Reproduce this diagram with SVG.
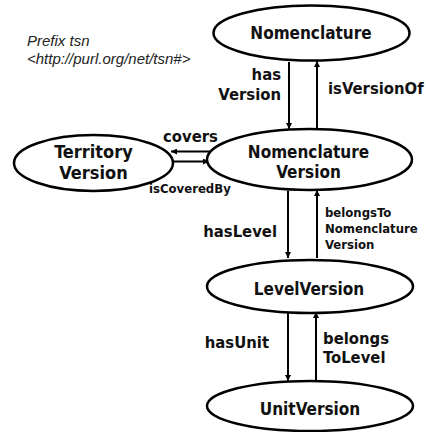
<svg xmlns="http://www.w3.org/2000/svg" width="426" height="432" viewBox="0 0 426 432">
  <defs>
    <marker id="arrow" viewBox="0 0 10 10" refX="10" refY="5" markerWidth="3.2" markerHeight="3" markerUnits="strokeWidth" orient="auto">
      <path d="M0,0 L10,5 L0,10 z" fill="#000"/>
    </marker>
  </defs>
  <style>
    .node ellipse { fill: #fff; stroke: #000; stroke-width: 2.5; }
    .node text { font-family: "DejaVu Sans Condensed", "DejaVu Sans", sans-serif; font-stretch: condensed; font-weight: bold; font-size: 17px; text-anchor: middle; fill: #111; }
    .node .big { font-size: 18px; }
    .edges line { stroke: #000; stroke-width: 2; marker-end: url(#arrow); }
    .lbl { font-family: "DejaVu Sans Condensed", "DejaVu Sans", sans-serif; font-stretch: condensed; font-weight: bold; font-size: 16.5px; fill: #111; }
    .sm { font-size: 13px; }
    .r { text-anchor: end; }
    .prefix { font-family: "Liberation Sans", Arial, sans-serif; font-style: italic; font-size: 15px; fill: #222; }
  </style>

  <!-- namespace note -->
  <text class="prefix" x="27" y="46">Prefix tsn</text>
  <text class="prefix" x="27" y="64">&lt;http://purl.org/net/tsn#&gt;</text>

  <!-- connectors -->
  <g class="edges">
    <line x1="289" y1="62" x2="289" y2="129"/>
    <line x1="317" y1="128" x2="317" y2="61"/>
    <line x1="210" y1="151.5" x2="171" y2="151.5"/>
    <line x1="170" y1="161.5" x2="209" y2="161.5"/>
    <line x1="288" y1="191" x2="288" y2="258"/>
    <line x1="317" y1="258" x2="317" y2="190"/>
    <line x1="288" y1="313" x2="288" y2="381"/>
    <line x1="316" y1="380" x2="316" y2="312"/>
  </g>

  <!-- connector labels -->
  <g id="edge-labels">
    <text class="lbl r" x="281" y="80">has</text>
    <text class="lbl r" x="281" y="100">Version</text>
    <text class="lbl" x="328" y="94">isVersionOf</text>
    <text class="lbl" x="163" y="142">covers</text>
    <text class="lbl sm" x="149" y="193">isCoveredBy</text>
    <text class="lbl r" x="277" y="237">hasLevel</text>
    <text class="lbl sm" x="325" y="217">belongsTo</text>
    <text class="lbl sm" x="325" y="233">Nomenclature</text>
    <text class="lbl sm" x="325" y="249">Version</text>
    <text class="lbl r" x="269" y="348">hasUnit</text>
    <text class="lbl" x="323" y="344">belongs</text>
    <text class="lbl" x="323" y="363">ToLevel</text>
  </g>

  <g id="nomenclature" class="node">
    <ellipse cx="311.5" cy="33" rx="98" ry="27.5"/>
    <text x="311" y="39">Nomenclature</text>
  </g>

  <g id="territory-version" class="node">
    <ellipse cx="93.5" cy="163" rx="79.5" ry="28"/>
    <text class="big" x="93.5" y="158">Territory</text>
    <text class="big" x="93.5" y="179">Version</text>
  </g>

  <g id="nomenclature-version" class="node">
    <ellipse cx="309.5" cy="159.5" rx="102.5" ry="30.5"/>
    <text x="308.5" y="158">Nomenclature</text>
    <text x="308.5" y="177.5">Version</text>
  </g>

  <g id="level-version" class="node">
    <ellipse cx="310" cy="286.5" rx="103" ry="26.5"/>
    <text x="309" y="294.5">LevelVersion</text>
  </g>

  <g id="unit-version" class="node">
    <ellipse cx="310" cy="406" rx="103" ry="25"/>
    <text x="310" y="415">UnitVersion</text>
  </g>
</svg>
